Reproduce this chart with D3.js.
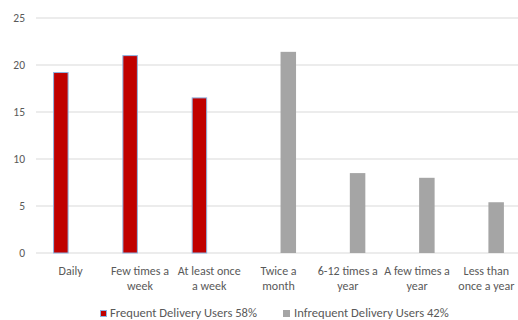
<!DOCTYPE html>
<html><head><meta charset="utf-8">
<script src="https://cdn.jsdelivr.net/npm/d3@7"></script>
<style>
html,body{margin:0;padding:0;background:#fff;}
svg{display:block;font-family:Carlito,Lato,"Open Sans",sans-serif;}
</style></head>
<body>
<svg id="chart" width="518" height="320"></svg>
<script>
const categories = [["Daily"],["Few times a","week"],["At least once","a week"],["Twice a","month"],["6-12 times a","year"],["A few times a","year"],["Less than","once a year"]];
const frequentValues = [19.2, 21.0, 16.5, null, null, null, null];
const infrequentValues = [null, null, null, 21.4, 8.5, 8.0, 5.4];
const seriesNames = ["Frequent Delivery Users 58%", "Infrequent Delivery Users 42%"];
const yTicks = [0, 5, 10, 15, 20, 25];

const svg = d3.select("#chart");
const x = d3.scaleBand().domain(d3.range(categories.length)).range([36, 521]).paddingInner(0).paddingOuter(0);
const y = d3.scaleLinear().domain([0, 25]).range([253, 18]);
const barW = 15.5, off = 9.8;

// gridlines
svg.append("g").selectAll("line").data(yTicks).join("line")
  .attr("x1", 36).attr("x2", 521)
  .attr("y1", d => y(d)).attr("y2", d => y(d))
  .attr("stroke", "#d9d9d9").attr("stroke-width", 1);

// y axis
const yAxis = d3.axisLeft(y).tickValues(yTicks).tickSize(0).tickPadding(0);
const gy = svg.append("g").attr("transform", "translate(25,0)").call(yAxis);
gy.select(".domain").remove();
gy.selectAll("text").attr("fill", "#595959").style("font-size", "11.5px").style("font-family", "Carlito,Lato,sans-serif");

// bars
const freqData = frequentValues.map((v,i)=>({i,v})).filter(d=>d.v!=null);
const infData = infrequentValues.map((v,i)=>({i,v})).filter(d=>d.v!=null);
svg.append("g").selectAll("rect").data(freqData).join("rect")
  .attr("x", d => x(d.i) + x.bandwidth()/2 - off - barW/2 + 0.5)
  .attr("y", d => y(d.v))
  .attr("width", barW - 1).attr("height", d => y(0) - y(d.v))
  .attr("fill", "#C00000").attr("stroke", "#8DB4E2").attr("stroke-width", 1);
svg.append("g").selectAll("rect").data(infData).join("rect")
  .attr("x", d => x(d.i) + x.bandwidth()/2 + off - barW/2)
  .attr("y", d => y(d.v))
  .attr("width", barW).attr("height", d => y(0) - y(d.v))
  .attr("fill", "#A5A5A5");

// category labels
const xl = svg.append("g");
categories.forEach((lines, i) => {
  const t = xl.append("text").attr("text-anchor", "middle").attr("fill", "#595959")
    .style("font-size", "12px")
    .attr("x", x(i) + x.bandwidth()/2).attr("y", 274.5);
  lines.forEach((ln, k) => t.append("tspan").attr("x", x(i) + x.bandwidth()/2).attr("dy", k ? 15 : 0).text(ln));
});

// legend
const leg = svg.append("g");
leg.append("rect").attr("x", 100.5).attr("y", 310.5).attr("width", 6).attr("height", 6)
  .attr("fill", "#C00000").attr("stroke", "#8DB4E2").attr("stroke-width", 1);
leg.append("text").attr("x", 110).attr("y", 317).attr("fill", "#595959").style("font-size", "12.6px").text(seriesNames[0]);
leg.append("rect").attr("x", 283).attr("y", 310).attr("width", 7).attr("height", 7).attr("fill", "#A5A5A5");
leg.append("text").attr("x", 294).attr("y", 317).attr("fill", "#595959").style("font-size", "12.6px").text(seriesNames[1]);
</script>
</body></html>
